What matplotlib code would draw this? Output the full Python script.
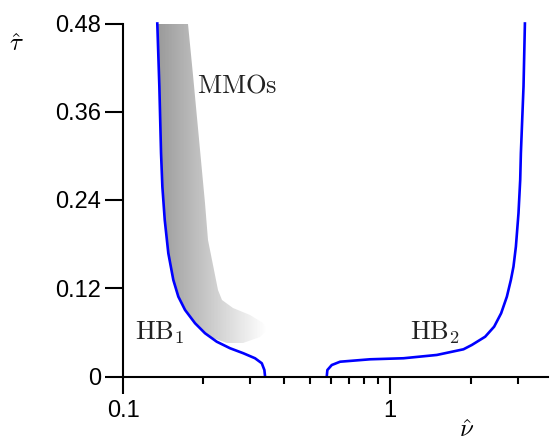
import numpy as np
import matplotlib
matplotlib.use("Agg")
import matplotlib.pyplot as plt
from matplotlib.patches import Polygon
from matplotlib.ticker import FixedLocator, NullFormatter

plt.rcParams['mathtext.fontset'] = 'cm'
plt.rcParams['font.family'] = ['Liberation Sans', 'DejaVu Sans']

# Hopf branch HB1 (left), nu_hat vs tau_hat
hb1_nu = [0.1344, 0.1368, 0.1388, 0.1404, 0.1433, 0.1478, 0.1543, 0.1611, 0.1707,
          0.1861, 0.2028, 0.2244, 0.2517, 0.2822, 0.3121, 0.3308, 0.3383, 0.3403]
hb1_tau = [0.480, 0.3943, 0.3037, 0.2582, 0.2129, 0.1676, 0.1313, 0.1086, 0.0905,
           0.0724, 0.0588, 0.0473, 0.0384, 0.0316, 0.0248, 0.0180, 0.0088, 0.0]

# Hopf branch HB2 (right)
hb2_nu = [0.5791, 0.5822, 0.6046, 0.6497, 0.8415, 1.1215, 1.496, 1.882, 2.023,
          2.269, 2.452, 2.604, 2.736, 2.832, 2.896, 2.957, 3.024, 3.069, 3.087,
          3.158, 3.196]
hb2_tau = [0.0, 0.0088, 0.0156, 0.0201, 0.0234, 0.0248, 0.0293, 0.0370, 0.0429,
           0.0541, 0.0678, 0.0860, 0.1086, 0.1313, 0.1494, 0.1766, 0.2220, 0.2673,
           0.3037, 0.3943, 0.480]

# outer edge of the MMO region (top -> bend -> back along the bottom)
mmo_nu = [0.1744, 0.1829, 0.2028, 0.2087, 0.2173, 0.2275, 0.2343, 0.2588, 0.2989,
          0.3353, 0.3461, 0.3259, 0.2822, 0.2445, 0.2117]
mmo_tau = [0.480, 0.4102, 0.2360, 0.1857, 0.1517, 0.1177, 0.1041, 0.0928, 0.0837,
           0.0724, 0.0633, 0.0537, 0.0452, 0.0452, 0.0531]

yticks = [0, 0.12, 0.24, 0.36, 0.48]
ytick_labels = ["0", "0.12", "0.24", "0.36", "0.48"]
xticks = [0.1, 1]
xtick_labels = ["0.1", "1"]
xminor = [0.2, 0.3, 0.4, 0.5, 0.6, 0.7, 0.8, 0.9, 2, 3]

fig = plt.figure(figsize=(5.5, 4.41), dpi=100)
ax = fig.add_axes([123/550, 1-376.5/441, (548-123)/550, (376.5-23.5)/441])
ax.set_xscale('log')
ax.set_xlim(0.1, 3.9)
ax.set_ylim(0, 0.48)

# shaded MMO region: outer edge, then back up along HB1
poly_x = mmo_nu + hb1_nu[10::-1]
poly_y = mmo_tau + hb1_tau[10::-1]
region = Polygon(np.column_stack([poly_x, poly_y]), closed=True,
                 facecolor='none', edgecolor='none')
ax.add_patch(region)

gx = np.logspace(np.log10(0.13), np.log10(0.36), 150)
gy = np.array([0.0, 0.48])
lg = np.log10(gx[:-1])
shade = 0.6 + 0.4 * (lg - np.log10(0.134)) / (np.log10(0.345) - np.log10(0.134))
shade = np.clip(shade, 0, 1)[None, :]
mesh = ax.pcolormesh(gx, gy, shade, cmap='gray', vmin=0, vmax=1,
                     shading='flat', edgecolors='none', rasterized=True)
mesh.set_clip_path(region)

ax.plot(hb1_nu, hb1_tau, color='#0000ff', lw=1.9, clip_on=False)
ax.plot(hb2_nu, hb2_tau, color='#0000ff', lw=1.9, clip_on=False)

ax.text(0.1893, 0.3857, r'$\mathrm{MMOs}$', fontsize=19, color='#222222')
ax.text(0.111, 0.0497, r'$\mathrm{HB}_1$', fontsize=19, color='#222222')
ax.text(1.188, 0.0497, r'$\mathrm{HB}_2$', fontsize=19, color='#222222')

for s in ['top', 'right']:
    ax.spines[s].set_visible(False)
for s in ['left', 'bottom']:
    ax.spines[s].set_linewidth(1.5)

ax.set_yticks(yticks)
ax.set_yticklabels(ytick_labels)
ax.xaxis.set_major_locator(FixedLocator(xticks))
ax.set_xticklabels(xtick_labels)
ax.xaxis.set_minor_locator(FixedLocator(xminor))
ax.xaxis.set_minor_formatter(NullFormatter())
ax.tick_params(axis='y', which='major', direction='out', length=13, width=1.5,
               labelsize=17, pad=3)
ax.tick_params(axis='x', which='major', direction='out', length=12, width=1.5,
               labelsize=17, pad=5)
ax.tick_params(axis='x', which='minor', direction='out', length=5, width=1.5)

fig.text(16/550, 1-44/441, r'$\hat{\tau}$', fontsize=18, ha='center', va='center')
fig.text(467/550, 1-430/441, r'$\hat{\nu}$', fontsize=18, ha='center', va='center')

fig.savefig("out.png", dpi=100)
